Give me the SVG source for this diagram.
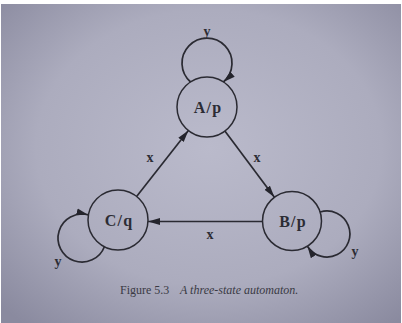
<svg xmlns="http://www.w3.org/2000/svg" width="402" height="323" viewBox="0 0 402 323">
  <defs>
    <radialGradient id="page" cx="0.52" cy="0.45" r="0.72">
      <stop offset="0" stop-color="#babacb"/>
      <stop offset="0.6" stop-color="#acacbe"/>
      <stop offset="1" stop-color="#8a8a9f"/>
    </radialGradient>
    <marker id="arrow" viewBox="0 0 12 8" refX="12" refY="4" markerWidth="12" markerHeight="8" markerUnits="userSpaceOnUse" orient="auto">
      <path d="M0,0.6 L12,4 L0,7.4 Z" fill="#24242c"/>
    </marker>
    <style>
      .state { fill: none; stroke: #2a2a32; stroke-width: 1.5; }
      .edge { fill: none; stroke: #2a2a32; stroke-width: 1.7; marker-end: url(#arrow); }
      .lbl { font-family: "Liberation Serif", "Times New Roman", serif; font-weight: bold; fill: #2c2c34; text-anchor: middle; }
      .name { font-size: 16px; letter-spacing: 1.2px; }
      .sym { font-size: 14px; }
      .cap { font-family: "Liberation Serif", "Times New Roman", serif; font-size: 12px; fill: #3a3a44; }
    </style>
  </defs>

  <rect x="0" y="0" width="402" height="323" fill="#ffffff"/>
  <rect x="1" y="4" width="400" height="319" fill="url(#page)"/>

  <g id="connectors">
    <path class="edge" d="M190.6,82 A25,25 0 1 1 223.4,82"/>
    <path class="edge" d="M104.4,246.7 A24,24 0 1 1 88.4,214.9"/>
    <path class="edge" d="M320.2,212 A23,23 0 1 1 307.4,246.2"/>
    <line class="edge" x1="136.6" y1="196.4" x2="188.4" y2="130.4"/>
    <line class="edge" x1="224.9" y1="131.1" x2="274.4" y2="197.3"/>
    <line class="edge" x1="262.5" y1="221.5" x2="148" y2="221.5"/>
    <text class="lbl sym" x="207" y="36">y</text>
    <text class="lbl sym" x="58" y="266">y</text>
    <text class="lbl sym" x="355" y="256">y</text>
    <text class="lbl sym" x="150" y="162">x</text>
    <text class="lbl sym" x="257" y="162">x</text>
    <text class="lbl sym" x="210" y="239">x</text>
  </g>

  <g id="A">
    <circle class="state" cx="207" cy="107" r="30"/>
    <text class="lbl name" x="208" y="113">A/p</text>
  </g>
  <g id="B">
    <circle class="state" cx="292" cy="221" r="29.5"/>
    <text class="lbl name" x="293" y="227">B/p</text>
  </g>
  <g id="C">
    <circle class="state" cx="118" cy="220" r="30"/>
    <text class="lbl name" x="119" y="226">C/q</text>
  </g>

  <text class="cap" x="120" y="294">Figure 5.3</text>
  <text class="cap" x="180" y="294" font-style="italic">A three-state automaton.</text>
</svg>
